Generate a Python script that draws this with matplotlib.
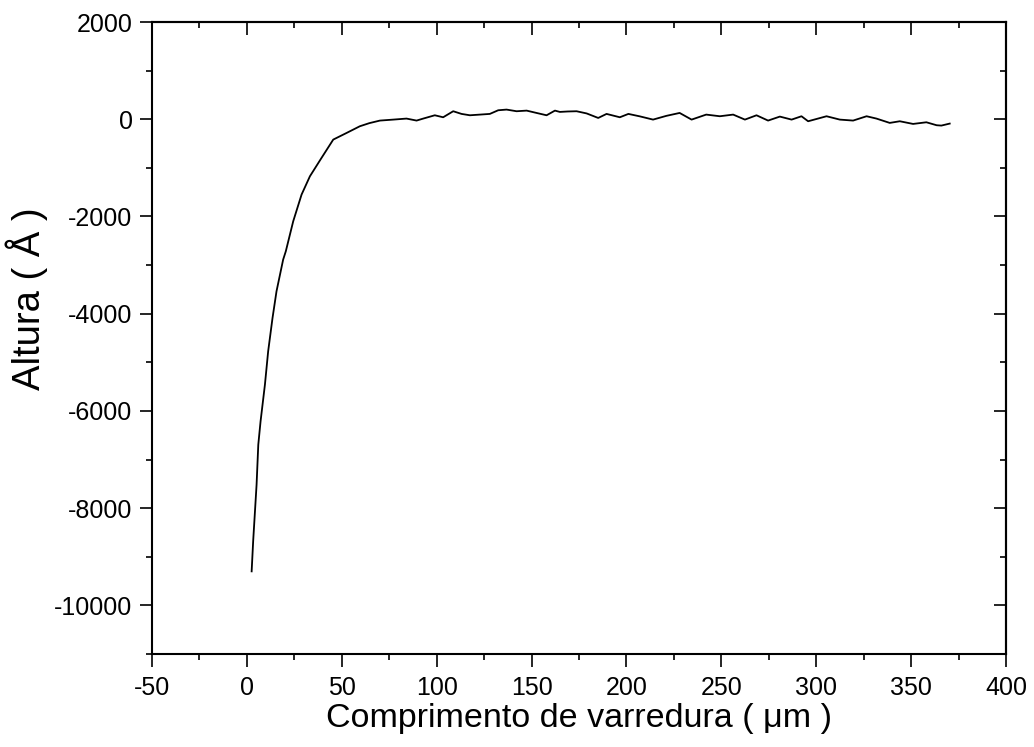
import numpy as np
import matplotlib.pyplot as plt

plt.rcParams['font.family'] = ['Liberation Sans', 'DejaVu Sans']
plt.rcParams['axes.unicode_minus'] = False

# scan length (um) and height (Angstrom) of the profile
comprimento = [2.5, 3.3, 5.1, 6.0, 7.2, 9.5, 11.2, 13.5, 15.6, 19.1, 20.5, 24.4,
               28.8, 33.2, 39.3, 45.5, 52.5, 59.5, 64.5, 70.1, 77.1, 84.1, 89.4,
               92.9, 99.0, 103.4, 108.7, 113.1, 117.5, 122.8, 128.0, 132.4,
               136.8, 142.1, 147.4, 152.6, 157.9, 162.3, 164.9, 169.0, 173.7,
               179.0, 185.1, 189.5, 196.5, 201.0, 207.0, 214.0, 221.0, 228.0,
               234.3, 242.0, 249.2, 256.2, 262.4, 268.5, 274.6, 280.8, 287.0,
               292.2, 295.7, 305.4, 312.4, 319.4, 326.5, 331.7, 338.7, 344.0,
               351.0, 358.0, 363.4, 365.9, 370.3]
altura = [-9300, -8680, -7517, -6694, -6214, -5459, -4774, -4088, -3539, -2887,
          -2716, -2099, -1550, -1173, -796, -418, -282, -144, -80, -27, -7, 14,
          -27, 14, 82, 41, 165, 110, 82, 96, 110, 185, 199, 165, 178, 130, 82,
          178, 151, 160, 165, 120, 27, 110, 41, 110, 60, -7, 70, 130, -7, 96,
          62, 96, -7, 82, -27, 55, -7, 62, -41, 62, -7, -27, 62, 14, -75, -41,
          -96, -62, -123, -130, -89]

fig = plt.figure(figsize=(10.34, 7.47), dpi=100)
ax = fig.add_axes([0.147, 0.1245, 0.826, 0.846])

ax.plot(comprimento, altura, color='black', lw=1.3)

ax.set_xlim(-50, 400)
ax.set_ylim(-11000, 2000)
ax.set_xticks(np.arange(-50, 401, 50))
ax.set_xticks(np.arange(-25, 400, 50), minor=True)
ax.set_yticks(np.arange(-10000, 2001, 2000))
ax.set_yticks(np.arange(-11000, 2000, 2000), minor=True)

for s in ax.spines.values():
    s.set_linewidth(1.5)

ax.tick_params(which='major', direction='out', length=9, width=1.2,
               labelsize=18, pad=5)
ax.tick_params(which='minor', direction='out', length=4.5, width=1.2)
ax.tick_params(axis='x', pad=7)

# inward ticks on the top and right frame
top = ax.secondary_xaxis('top')
top.set_xticks(np.arange(-50, 401, 50))
top.set_xticks(np.arange(-25, 400, 50), minor=True)
top.tick_params(which='major', direction='in', length=9, width=1.2,
                labeltop=False)
top.tick_params(which='minor', direction='in', length=4.5, width=1.2)
top.spines['top'].set_linewidth(1.5)

right = ax.secondary_yaxis('right')
right.set_yticks(np.arange(-10000, 2001, 2000))
right.set_yticks(np.arange(-11000, 2000, 2000), minor=True)
right.tick_params(which='major', direction='in', length=9, width=1.2,
                  labelright=False)
right.tick_params(which='minor', direction='in', length=4.5, width=1.2)
right.spines['right'].set_linewidth(1.5)

ax.set_xlabel('Comprimento de varredura ( μm )', fontsize=24.5, labelpad=2)
ax.set_ylabel('Altura ( Å )', fontsize=27.5)
ax.yaxis.set_label_coords(-0.122, 0.562)

fig.savefig('out.png', dpi=100)
